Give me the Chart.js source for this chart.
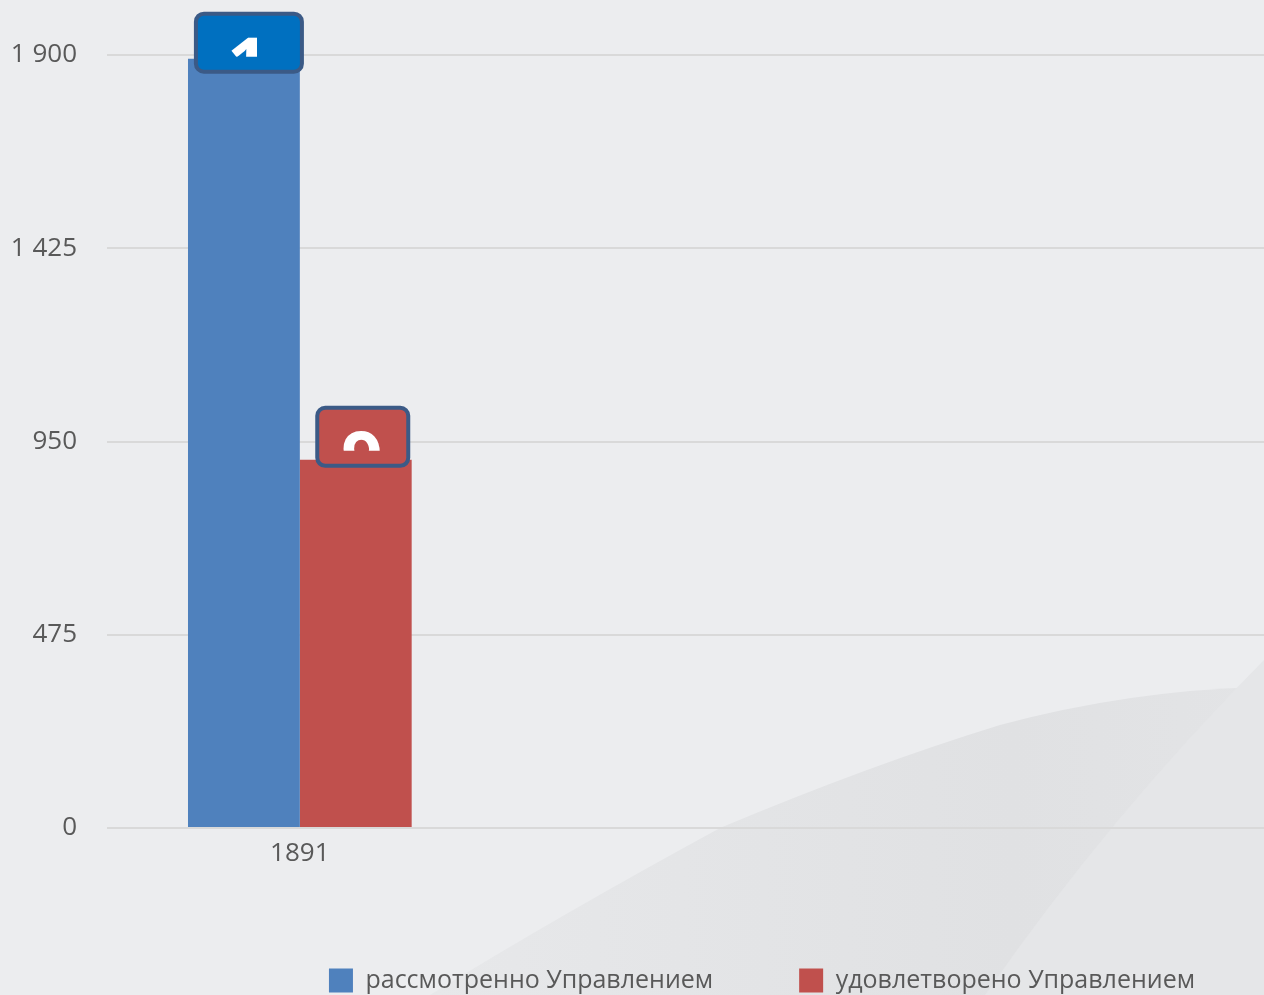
<!DOCTYPE html>
<html>
<head>
<meta charset="utf-8">
<script src="https://cdn.jsdelivr.net/npm/chart.js@4"></script>
<style>
  body { margin: 0; background: #ecedef; }
  #chart { display: block; }
</style>
</head>
<body>
<canvas id="chart" width="1264" height="995"></canvas>
<script>
// chart data
var categories = ['1891', '', ''];
var reviewed = [1891, null, null];
var satisfied = [905, null, null];
var seriesNames = ['рассмотренно Управлением', 'удовлетворено Управлением'];
var yTicks = [0, 475, 950, 1425, 1900];

function fmt(v) {
    return String(v).replace(/\B(?=(\d{3})+(?!\d))/g, ' ');
}

// light background with the two soft curves in the lower right
var backdrop = {
    id: 'backdrop',
    beforeDraw: function (chart) {
        var c = chart.ctx;
        c.save();
        c.fillStyle = '#ecedef';
        c.fillRect(0, 0, chart.width, chart.height);

        var g = c.createLinearGradient(430, 0, 1264, 0);
        g.addColorStop(0, '#e7e8ea');
        g.addColorStop(0.7, '#e0e1e3');
        g.addColorStop(1, '#e3e4e6');
        c.fillStyle = g;
        c.beginPath();
        c.moveTo(430, 995);
        c.quadraticCurveTo(560, 915, 720, 828);
        c.quadraticCurveTo(870, 765, 1000, 725);
        c.quadraticCurveTo(1130, 690, 1264, 687);
        c.lineTo(1264, 995);
        c.closePath();
        c.fill();

        c.fillStyle = '#e5e6e8';
        c.beginPath();
        c.moveTo(1264, 660);
        c.quadraticCurveTo(1110, 815, 985, 995);
        c.lineTo(1264, 995);
        c.closePath();
        c.fill();
        c.restore();
    }
};

// legend sits right of centre and a little lower in the original
var legendShift = {
    id: 'legendShift',
    afterLayout: function (chart) {
        chart.legend.left = 124;
        chart.legend.right = 1400;
        chart.legend.top += 8;
    }
};

// boxed value labels above the bars (text clipped inside the box)
var valueBoxes = {
    id: 'valueBoxes',
    afterDatasetsDraw: function (chart, args, opts) {
        var c = chart.ctx;
        chart.data.datasets.forEach(function (ds, i) {
            var meta = chart.getDatasetMeta(i);
            meta.data.forEach(function (bar, j) {
                var v = ds.data[j];
                if (v == null) return;
                var w = opts.widths[i], h = 62;
                var cx = bar.x + opts.dx[i];
                var top = bar.y + opts.dy[i] - h / 2;
                var left = cx - w / 2;
                c.save();
                c.beginPath();
                c.roundRect(left + 2, top + 2, w - 4, h - 4, 8);
                c.fillStyle = opts.fills[i];
                c.fill();
                c.lineWidth = 4;
                c.strokeStyle = '#3b5a86';
                c.stroke();

                c.beginPath();
                c.rect(left + 4, top + 4, w - 8, 41);
                c.clip();
                c.fillStyle = '#ffffff';
                c.font = 'bold 72px "Open Sans"';
                c.textAlign = 'center';
                c.textBaseline = 'alphabetic';
                c.fillText(String(v).charAt(0), cx - 1, top + 25 + 52);
                c.restore();
            });
        });
    }
};

var ctx = document.getElementById('chart').getContext('2d');

var data = {
    labels: categories,
    datasets: [{
        label: seriesNames[0],
        data: reviewed,
        backgroundColor: '#4f81bd',
        categoryPercentage: 0.58,
        barPercentage: 1
    }, {
        label: seriesNames[1],
        data: satisfied,
        backgroundColor: '#c0504d',
        categoryPercentage: 0.58,
        barPercentage: 1
    }]
};

var options = {
    responsive: false,
    animation: false,
    layout: {
        padding: { top: 55, left: 13, right: 0, bottom: 0 }
    },
    scales: {
        x: {
            grid: { display: false },
            border: { display: false },
            ticks: {
                color: '#595959',
                font: { family: 'Open Sans', size: 26 },
                padding: 2
            },
            afterFit: function (scale) { scale.height = 46; }
        },
        y: {
            min: 0,
            max: 1900,
            afterBuildTicks: function (scale) {
                scale.ticks = yTicks.map(function (v) { return { value: v }; });
            },
            afterFit: function (scale) { scale.width = 94; },
            grid: { color: '#d9d9d9', lineWidth: 2, drawTicks: false },
            border: { display: false },
            ticks: {
                color: '#595959',
                font: { family: 'Open Sans', size: 26 },
                padding: 30,
                callback: function (v) { return fmt(v); }
            }
        }
    },
    plugins: {
        legend: {
            position: 'bottom',
            labels: {
                color: '#595959',
                font: { family: 'Open Sans', size: 25 },
                boxWidth: 24,
                boxHeight: 24,
                padding: 86
            }
        },
        tooltip: { enabled: false },
        valueBoxes: {
            widths: [110, 95],
            dx: [5, 7],
            dy: [-16, -23],
            fills: ['#0070c0', '#c0504d']
        }
    }
};

new Chart(ctx, {
    type: 'bar',
    data: data,
    options: options,
    plugins: [backdrop, legendShift, valueBoxes]
});
</script>
</body>
</html>
